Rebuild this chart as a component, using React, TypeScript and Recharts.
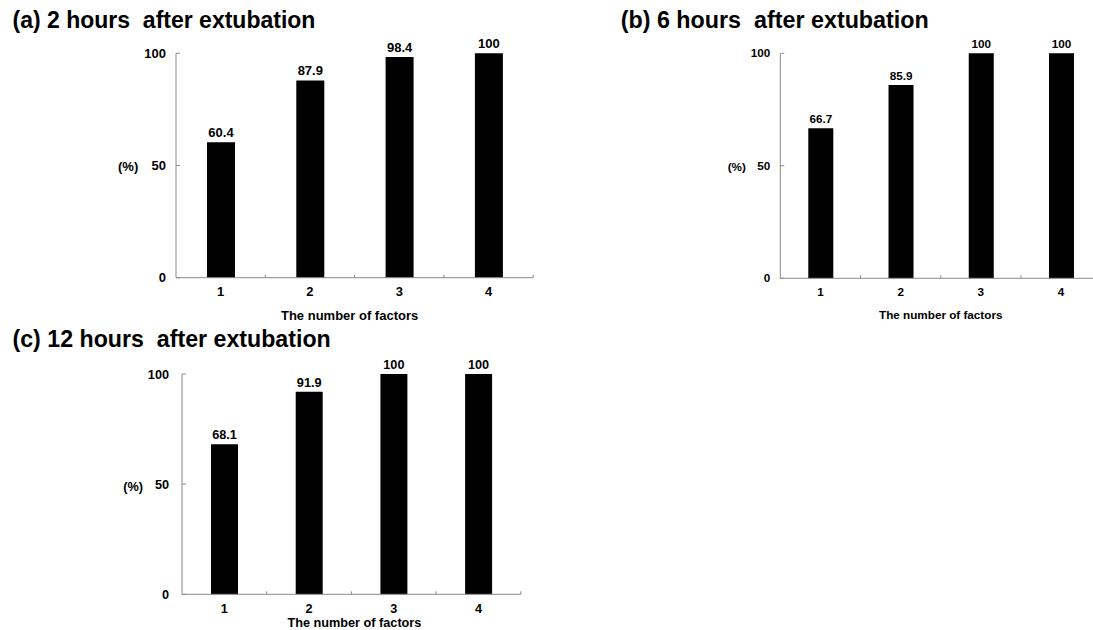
import React from 'react';
import { BarChart, Bar, XAxis, YAxis, LabelList, Label } from 'recharts';

const FACTORS = ['1', '2', '3', '4'];
const HOURS_2 = [60.4, 87.9, 98.4, 100];
const HOURS_6 = [66.7, 85.9, 100, 100];
const HOURS_12 = [68.1, 91.9, 100, 100];
const Y_TICKS = [0, 50, 100];

const FONT = '"Liberation Sans", Arial, sans-serif';
const AXIS = '#8a8a8a';

const toRows = (values: number[]) => FACTORS.map((factor, i) => ({ factor, value: values[i] }));

// x tick: label plus a small upward mark on the category's right boundary
const XTick = (props: any) => {
  const { x, y, payload, step, gap, fontSize } = props;
  const axisY = y - gap;
  const bx = x + step / 2;
  return (
    <g>
      <line x1={bx} y1={axisY} x2={bx} y2={axisY - 3} stroke={AXIS} strokeWidth={1} />
      <text x={x} y={y} dy="0.71em" textAnchor="middle" fontSize={fontSize} fontWeight="bold" fill="#000" fontFamily={FONT}>
        {payload.value}
      </text>
    </g>
  );
};

// y tick: label plus an inward mark
const YTick = (props: any) => {
  const { x, y, payload, gap, fontSize } = props;
  const axisX = x + gap;
  return (
    <g>
      <line x1={axisX} y1={y} x2={axisX + 4} y2={y} stroke={AXIS} strokeWidth={1} />
      <text x={x} y={y} dy="0.355em" textAnchor="end" fontSize={fontSize} fontWeight="bold" fill="#000" fontFamily={FONT}>
        {payload.value}
      </text>
    </g>
  );
};

type PanelProps = {
  values: number[];
  left: number;
  top: number;
  width: number;
  height: number;
  margin: { top: number; right: number; bottom: number; left: number };
  xHeight: number;
  barSize: number;
  step: number;
  fontSize: number;
  xGap: number;
  yGap: number;
  pctOffset: number;
  pctDy: number;
  xLabelDx: number;
};

const Panel = (p: PanelProps) => (
  <div style={{ position: 'absolute', left: p.left, top: p.top }}>
    <BarChart width={p.width} height={p.height} data={toRows(p.values)} margin={p.margin}>
      <XAxis
        dataKey="factor"
        height={p.xHeight}
        stroke={AXIS}
        tickLine={false}
        tickSize={0}
        tickMargin={p.xGap}
        interval={0}
        tick={(t: any) => <XTick {...t} step={p.step} gap={p.xGap} fontSize={p.fontSize} />}
      >
        <Label
          value="The number of factors"
          position="insideBottom"
          offset={0}
          dx={p.xLabelDx}
          fill="#000"
          fontSize={p.fontSize}
          fontWeight="bold"
          fontFamily={FONT}
        />
      </XAxis>
      <YAxis
        width={60}
        domain={[0, 100]}
        ticks={Y_TICKS}
        interval={0}
        stroke={AXIS}
        tickLine={false}
        tickSize={0}
        tickMargin={p.yGap}
        tick={(t: any) => <YTick {...t} gap={p.yGap} fontSize={p.fontSize} />}
      >
        <Label
          value="(%)"
          position="insideLeft"
          offset={p.pctOffset}
          dy={p.pctDy}
          fill="#000"
          fontSize={p.fontSize}
          fontWeight="bold"
          fontFamily={FONT}
        />
      </YAxis>
      <Bar dataKey="value" fill="#000" barSize={p.barSize} isAnimationActive={false}>
        <LabelList
          dataKey="value"
          position="top"
          offset={5}
          fill="#000"
          fontSize={p.fontSize}
          fontWeight="bold"
          fontFamily={FONT}
        />
      </Bar>
    </BarChart>
  </div>
);

const App = () => (
  <div
    style={{
      position: 'absolute',
      left: 0,
      top: 0,
      width: 1093,
      height: 630,
      overflow: 'hidden',
      background: '#fff',
      fontFamily: FONT,
    }}
  >
    <Panel
      values={HOURS_2}
      left={0}
      top={0}
      width={560}
      height={330}
      margin={{ top: 53.3, right: 26.8, bottom: 10.3, left: 116 }}
      xHeight={42}
      barSize={28}
      step={89.3}
      fontSize={13}
      xGap={8.6}
      yGap={10}
      pctOffset={2}
      pctDy={1.2}
      xLabelDx={-5}
    />
    <Panel
      values={HOURS_6}
      left={620}
      top={0}
      width={500}
      height={330}
      margin={{ top: 53.3, right: 18.8, bottom: 10.8, left: 100.3 }}
      xHeight={40.9}
      barSize={25}
      step={80.2}
      fontSize={11.7}
      xGap={9.2}
      yGap={10}
      pctOffset={7.4}
      pctDy={1}
      xLabelDx={0}
    />
    <Panel
      values={HOURS_12}
      left={0}
      top={330}
      width={560}
      height={300}
      margin={{ top: 44, right: 39.2, bottom: 3, left: 122 }}
      xHeight={32.7}
      barSize={27}
      step={84.7}
      fontSize={12.7}
      xGap={9.5}
      yGap={13}
      pctOffset={1.2}
      pctDy={2.5}
      xLabelDx={3}
    />
    <svg
      width={1093}
      height={630}
      style={{ position: 'absolute', left: 0, top: 0, pointerEvents: 'none' }}
    >
      <text x={12.5} y={28.3} fontSize={23} fontWeight="bold" fontFamily={FONT} style={{ whiteSpace: 'pre' }}>
        {'(a) 2 hours  after extubation'}
      </text>
      <text x={620.7} y={28.3} fontSize={23.3} fontWeight="bold" fontFamily={FONT} style={{ whiteSpace: 'pre' }}>
        {'(b) 6 hours  after extubation'}
      </text>
      <text x={12.5} y={346.7} fontSize={23.2} fontWeight="bold" fontFamily={FONT} style={{ whiteSpace: 'pre' }}>
        {'(c) 12 hours  after extubation'}
      </text>
    </svg>
  </div>
);

export default App;
